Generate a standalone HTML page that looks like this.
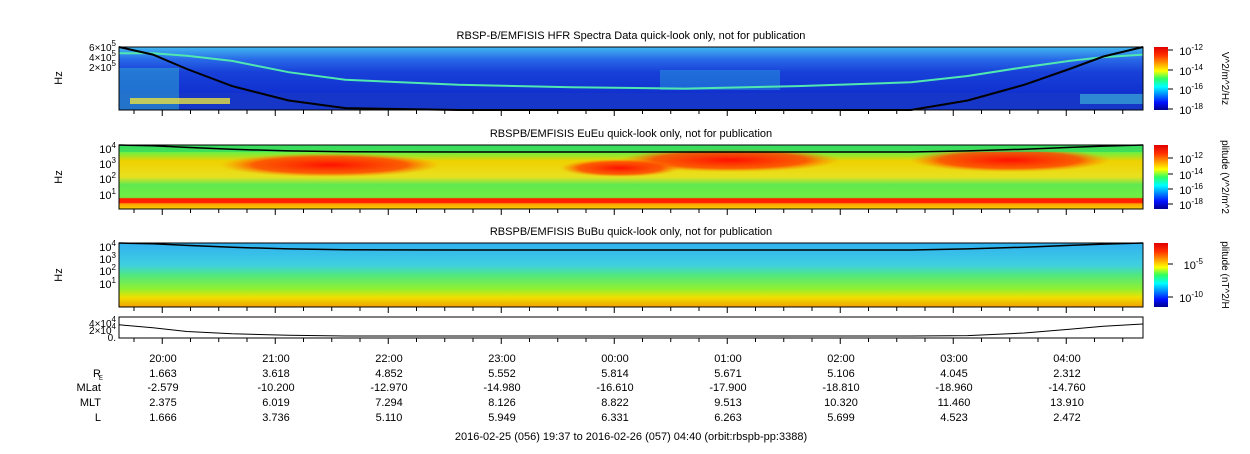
<!DOCTYPE html>
<html><head><meta charset="utf-8"><style>
body{margin:0;background:#fff;font-family:"Liberation Sans",sans-serif;}
svg text{font-family:"Liberation Sans",sans-serif;fill:#000;}
</style></head><body>
<svg id="c" width="1250" height="449" xmlns="http://www.w3.org/2000/svg">
<defs>
<linearGradient id="jet" x1="0" y1="1" x2="0" y2="0">
<stop offset="0" stop-color="#00008f"/><stop offset="0.12" stop-color="#0010ff"/><stop offset="0.37" stop-color="#00ffff"/>
<stop offset="0.5" stop-color="#30ff60"/><stop offset="0.62" stop-color="#ffff00"/><stop offset="0.87" stop-color="#ff3000"/><stop offset="1" stop-color="#e00000"/></linearGradient>
<linearGradient id="p1bg" x1="0" y1="0" x2="0" y2="1">
<stop offset="0" stop-color="#40b8f0"/><stop offset="0.2" stop-color="#2868e8"/><stop offset="0.4" stop-color="#1840d8"/><stop offset="0.75" stop-color="#1030d0"/><stop offset="1" stop-color="#1030c0"/></linearGradient>
<linearGradient id="p2bg" x1="0" y1="0" x2="0" y2="1">
<stop offset="0" stop-color="#40e060"/><stop offset="0.12" stop-color="#70f040"/><stop offset="0.25" stop-color="#f0d000"/><stop offset="0.5" stop-color="#e8e020"/><stop offset="0.62" stop-color="#60e850"/><stop offset="0.82" stop-color="#70f040"/><stop offset="0.84" stop-color="#ff2000"/><stop offset="0.9" stop-color="#ff2000"/><stop offset="0.92" stop-color="#ffa000"/><stop offset="1" stop-color="#f8d000"/></linearGradient>
<linearGradient id="p3bg" x1="0" y1="0" x2="0" y2="1">
<stop offset="0" stop-color="#30b0f0"/><stop offset="0.35" stop-color="#40d0e0"/><stop offset="0.5" stop-color="#50e880"/><stop offset="0.72" stop-color="#90f030"/><stop offset="0.85" stop-color="#f0e000"/><stop offset="1" stop-color="#f0a000"/></linearGradient>
<radialGradient id="red"><stop offset="0" stop-color="#ff1000"/><stop offset="0.7" stop-color="#ff4000" stop-opacity="0.8"/><stop offset="1" stop-color="#ff8000" stop-opacity="0"/></radialGradient>
</defs>
<g id="g"></g>
</svg>
<script>
// data
const hourLabels=["20:00","21:00","22:00","23:00","00:00","01:00","02:00","03:00","04:00"];
const RE=["1.663","3.618","4.852","5.552","5.814","5.671","5.106","4.045","2.312"];
const MLat=["-2.579","-10.200","-12.970","-14.980","-16.610","-17.900","-18.810","-18.960","-14.760"];
const MLT=["2.375","6.019","7.294","8.126","8.822","9.513","10.320","11.460","13.910"];
const Lval=["1.666","3.736","5.110","5.949","6.331","6.263","5.699","4.523","2.472"];
const tCurve=[0,0.3,0.6,1,1.5,2,3,4,5,6,7,7.5,8,8.4,8.7,9.05];
const fceFrac=[-0.1,0.12,0.35,0.62,0.85,0.97,1.1,1.15,1.15,1.1,1.0,0.85,0.6,0.35,0.15,-0.1];
const uhFrac=[0.1,0.1,0.14,0.22,0.4,0.52,0.6,0.64,0.66,0.62,0.56,0.46,0.32,0.22,0.16,0.12];
const altVal=[3.0,2.2,1.2,0.6,0.2,0,0,0,0,0,0,0.1,0.8,1.8,2.6,3.2];
const NS="http://www.w3.org/2000/svg",G=document.getElementById('g');
const X0=119,X1=1143,T0=0,T1=9.05;
const xs=t=>X0+(t-T0)/(T1-T0)*(X1-X0);
function el(tag,a,txt){const e=document.createElementNS(NS,tag);for(const k in a)e.setAttribute(k,a[k]);if(txt!=null)e.textContent=txt;G.appendChild(e);return e;}
const panels=[{y:47,h:63,bg:'url(#p1bg)',title:"RBSP-B/EMFISIS  HFR Spectra Data quick-look only, not for publication"},
{y:145,h:64,bg:'url(#p2bg)',title:"RBSPB/EMFISIS  EuEu quick-look only, not for publication"},
{y:243,h:64,bg:'url(#p3bg)',title:"RBSPB/EMFISIS  BuBu quick-look only, not for publication"}];
panels.forEach((p,i)=>{
 let r=el('rect',{x:X0,y:p.y,width:X1-X0,height:p.h,fill:p.bg});
 
 
 let t=el('text',{x:631,y:p.y-8,'font-size':11,'text-anchor':'middle'},p.title);
 
 
});
// panel1 extras
el('rect',{x:X0,y:93,width:X1-X0,height:17,fill:'#1838c8',opacity:0.8});
el('rect',{x:X0,y:68,width:60,height:42,fill:'#30b0d0',opacity:0.5});
el('rect',{x:130,y:98,width:100,height:6,fill:'#e8e040',opacity:0.8});
el('rect',{x:1080,y:94,width:63,height:10,fill:'#40c0d8',opacity:0.6});
el('rect',{x:660,y:70,width:120,height:20,fill:'#30c0e0',opacity:0.35});
// panel2 red blobs
[[330,165,110,12],[730,160,110,12],[1010,160,100,12],[620,168,60,9]].forEach(b=>el('ellipse',{cx:b[0],cy:b[1],rx:b[2],ry:b[3],fill:'url(#red)'}));
el('rect',{x:X0,y:145,width:X1-X0,height:7,fill:'#30d860',opacity:0.7});
function path(arr,fn,y,h){return tCurve.map((t,i)=>(i?'L':'M')+xs(t).toFixed(1)+','+(fn(arr[i],y,h)).toFixed(1)).join('');}
const clipF=(v,y,h)=>y+Math.max(0,Math.min(1,v))*h;
let uh=el('path',{d:path(uhFrac,clipF,47,63),stroke:'#50e8b0','stroke-width':2,fill:'none'});


let fc=el('path',{d:path(fceFrac,clipF,47,63),stroke:'#000','stroke-width':2,fill:'none'});


[145,243].forEach((py,k)=>{let q=el('path',{d:path(fceFrac,(v,y,h)=>y+Math.max(0,Math.min(1,v))*7,py,64),stroke:'#000','stroke-width':1.5,fill:'none'});

});
let r4=el('rect',{x:X0,y:317,width:X1-X0,height:21,fill:'#fff',stroke:'#000'});


let al=el('path',{d:path(altVal,(v,y,h)=>336-v/3.2*12,317,21),stroke:'#000',fill:'none'});


panels.forEach(p=>el('rect',{x:X0,y:p.y,width:X1-X0,height:p.h,fill:'none',stroke:'#000'}));
function ylab(x,y,base,exp,fs){let t=el('text',{x:x,y:y,'font-size':fs||11,'text-anchor':'end'});t.innerHTML=base+'<tspan dy="-5" font-size="8">'+exp+'</tspan>';return t;}
[[47,'6\u00d710','5'],[57,'4\u00d710','5'],[67,'2\u00d710','5']].forEach(a=>ylab(116,a[0]+4,a[1],a[2],10));
[[148,4],[163,3],[178,2],[194,1]].forEach(a=>ylab(116,a[0]+5,'10',a[1]));
[[246,4],[258,3],[270,2],[283,1]].forEach(a=>ylab(116,a[0]+5,'10',a[1]));
[[324,'4\u00d710','4'],[331,'2\u00d710','4'],[338,'0.','']].forEach(a=>ylab(116,a[0]+3,a[1],a[2],10));
[78,177,275].forEach((y,i)=>{let t=el('text',{x:62,y:y,'font-size':11,'text-anchor':'middle',transform:`rotate(-90 62 ${y})`},'Hz');});
[110,209,307,338].forEach(yb=>{for(let m=0;m<36;m++){const x=134+m*28.25;if(x>X1)break;const major=(m%4==1);el('line',{x1:x,x2:x,y1:yb,y2:yb+(major?6:4),stroke:'#000'});}});
const rows=[[hourLabels,358],[RE,373],[MLat,387],[MLT,402],[Lval,417]];
rows.forEach((r,ri)=>r[0].forEach((s,i)=>{let t=el('text',{x:163+i*113,y:r[1]+4,'font-size':11,'text-anchor':'middle'},s);}));
[['R',377],['MLat',391],['MLT',406],['L',421]].forEach((a,i)=>el('text',{x:101,y:a[1],'font-size':11,'text-anchor':'end'},a[0]));
el('text',{x:103,y:380,'font-size':6,'text-anchor':'end'},'E');
let bt=el('text',{x:631,y:440,'font-size':11,'text-anchor':'middle'},'2016-02-25 (056) 19:37 to 2016-02-26 (057) 04:40 (orbit:rbspb-pp:3388)');

[[47,63,'V^2/m^2/Hz'],[145,64,'plitude (V^2/m^2'],[243,64,'plitude (nT^2/H']].forEach((c,i)=>{
 let cb=el('rect',{x:1154,y:c[0],width:14,height:c[1],fill:'url(#jet)'});
 
 let t=el('text',{x:1222,y:c[0]+c[1]/2,'font-size':10,'text-anchor':'middle',transform:`rotate(90 1222 ${c[0]+c[1]/2})`},c[2]);
 
});
[[50,'-12'],[70,'-14'],[89,'-16'],[109,'-18']].forEach(a=>{ylab(1203,a[0]+5,'10',a[1],11);el('line',{x1:1168,x2:1173,y1:a[0],y2:a[0],stroke:'#000'});});
[[158,'-12'],[174,'-14'],[189,'-16'],[204,'-18']].forEach(a=>{ylab(1203,a[0]+5,'10',a[1],11);el('line',{x1:1168,x2:1173,y1:a[0],y2:a[0],stroke:'#000'});});
[[264,'-5'],[297,'-10']].forEach(a=>{ylab(1203,a[0]+5,'10',a[1],11);el('line',{x1:1168,x2:1173,y1:a[0],y2:a[0],stroke:'#000'});});
</script>
</body></html>
